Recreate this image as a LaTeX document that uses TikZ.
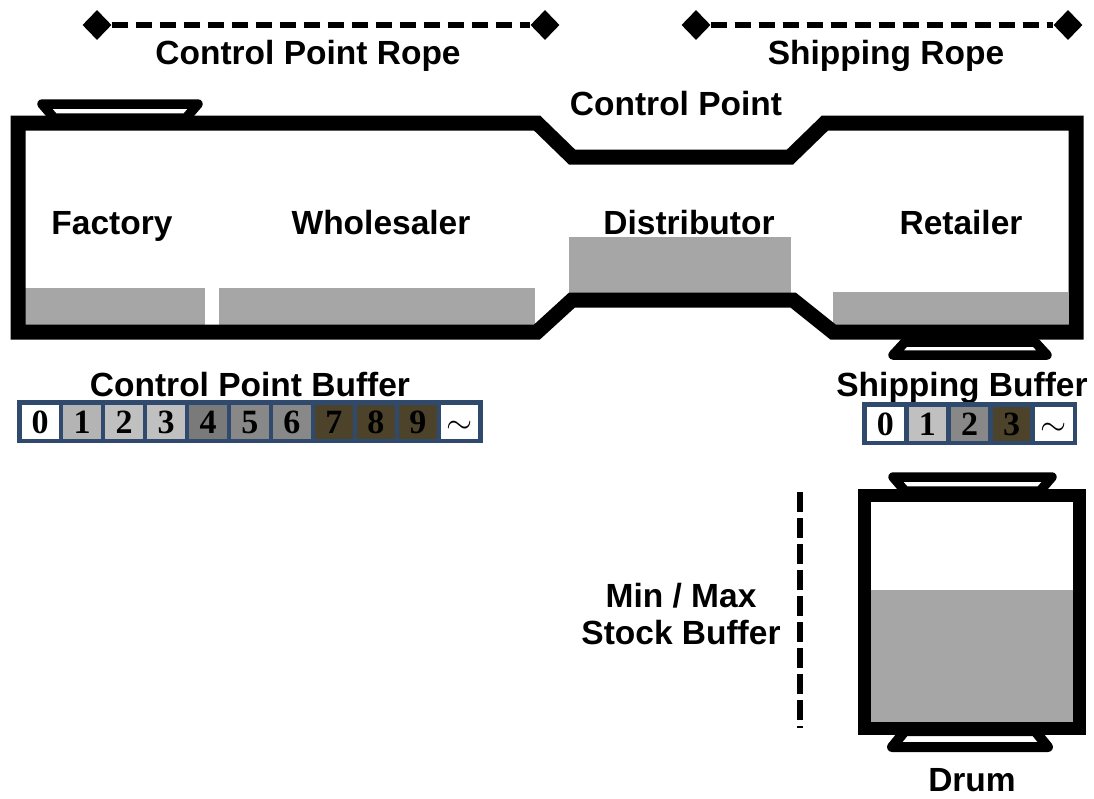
\documentclass[tikz,border=0pt]{standalone}
\usepackage{graphicx}
\usepackage{fontspec}
\setmainfont{Liberation Sans}
\newfontfamily\numfont{Liberation Serif}
\usetikzlibrary{shapes.geometric}

\definecolor{fillgray}{RGB}{166,166,166}
\definecolor{bufblue}{RGB}{47,74,108}
\definecolor{lgA}{RGB}{180,180,180}
\definecolor{lgB}{RGB}{192,192,192}
\definecolor{mgA}{RGB}{122,122,122}
\definecolor{mgB}{RGB}{136,136,136}
\definecolor{olive}{RGB}{76,67,42}

\newcommand{\bigtilde}{\raisebox{-4pt}{\scalebox{1.35}{$\sim$}}}

\begin{document}
\begin{tikzpicture}[x=1pt,y=-1pt,
  lbl/.style={font=\fontsize{33.5}{36}\selectfont\bfseries, inner sep=0pt, anchor=base},
  wall/.style={line width=15pt, line join=miter},
  tab/.style={line width=9.5pt, line join=round, line cap=round},
  ropeend/.style={diamond, fill=black, minimum width=29pt, minimum height=30pt, inner sep=0pt},
  rope/.style={line width=5.5pt, dash pattern=on 16pt off 8pt},
  cell/.style={draw=bufblue, line width=4.5pt, minimum height=38.5pt, inner sep=0pt, outer sep=0pt,
    font=\numfont\bfseries\fontsize{34}{34}\selectfont, text depth=0pt, text height=24pt},
  tilde/.style={font=\fontsize{24.88}{26}\selectfont, text height=16pt}
]
\useasboundingbox (0,0) rectangle (1094,798);

% ropes
\node[ropeend] (cpL) at (97,25) {};
\node[ropeend] (cpR) at (545,25) {};
\draw[rope] (cpL) -- (cpR);
\node[lbl] (cpRope) at (308,64) {Control Point Rope};

\node[ropeend] (shL) at (696,25) {};
\node[ropeend] (shR) at (1068,25) {};
\draw[rope] (shL) -- (shR);
\node[lbl] (shRope) at (886,64) {Shipping Rope};

% gray inventory blocks
\fill[fillgray] (25,288) rectangle (205,325);
\fill[fillgray] (219,288) rectangle (535,325);
\fill[fillgray] (569,237) rectangle (791,294);
\fill[fillgray] (833,292) rectangle (1068,326);

% pipe
\draw[wall] (18,123) -- (537,123) -- (572,157) -- (790,157) -- (825,123) -- (1076,123)
  -- (1076,332) -- (833,332) -- (793,300) -- (572,300) -- (537,332) -- (18,332) -- cycle;

% tabs on pipe
\draw[tab] (42,104) -- (198,104) -- (186,118) -- (54,118) -- cycle;
\draw[tab] (905,342) -- (1035,342) -- (1047,355) -- (893,355) -- cycle;

% labels in pipe
\node[lbl] (cpLabel) at (676,115) {Control Point};
\node[lbl] (factory) at (112,234) {Factory};
\node[lbl] (wholesaler) at (381,234) {Wholesaler};
\node[lbl] (distributor) at (689,234) {Distributor};
\node[lbl] (retailer) at (961,234) {Retailer};

% control point buffer
\node[lbl] (cpbLabel) at (250,396) {Control Point Buffer};
\foreach \i/\c/\t in {0/white/0,1/lgA/1,2/lgB/2,3/lgB/3,4/mgA/4,5/mgB/5,6/mgB/6,7/olive/7,8/olive/8,9/olive/9}{
  \node[cell, fill=\c, minimum width=41.95pt] (cpb\i) at (19.25+41.95*\i+20.975,421.5) {\t};
}
\node[cell, tilde, fill=white, minimum width=41.95pt] (cpb10) at (19.25+41.95*10+20.975,421.5) {\bigtilde};

% shipping buffer
\node[lbl] (sbLabel) at (962,396) {Shipping Buffer};
\foreach \i/\c/\t in {0/white/0,1/lgB/1,2/mgB/2,3/olive/3}{
  \node[cell, fill=\c, minimum width=42.1pt] (sb\i) at (864.25+42.1*\i+21.05,423.5) {\t};
}
\node[cell, tilde, fill=white, minimum width=42.1pt] (sb4) at (864.25+42.1*4+21.05,423.5) {\bigtilde};

% drum
\fill[fillgray] (870,590) rectangle (1073,723);
\draw[line width=13pt] (864,495) rectangle (1079,728);
\draw[tab] (893,477) -- (1052,477) -- (1040,491) -- (905,491) -- cycle;
\draw[tab, line width=10pt] (905,731) -- (1035,731) -- (1048,747) -- (892,747) -- cycle;
\node[lbl] (drum) at (972,791) {Drum};

% min/max bracket
\coordinate (mmTop) at (800,492);
\coordinate (mmBot) at (800,728);
\draw[line width=6pt, dash pattern=on 20pt off 6pt] (mmTop) -- (mmBot);
\node[lbl] (minmax) at (681,607) {Min / Max};
\node[lbl] (stock) at (681,644) {Stock Buffer};
\end{tikzpicture}
\end{document}
